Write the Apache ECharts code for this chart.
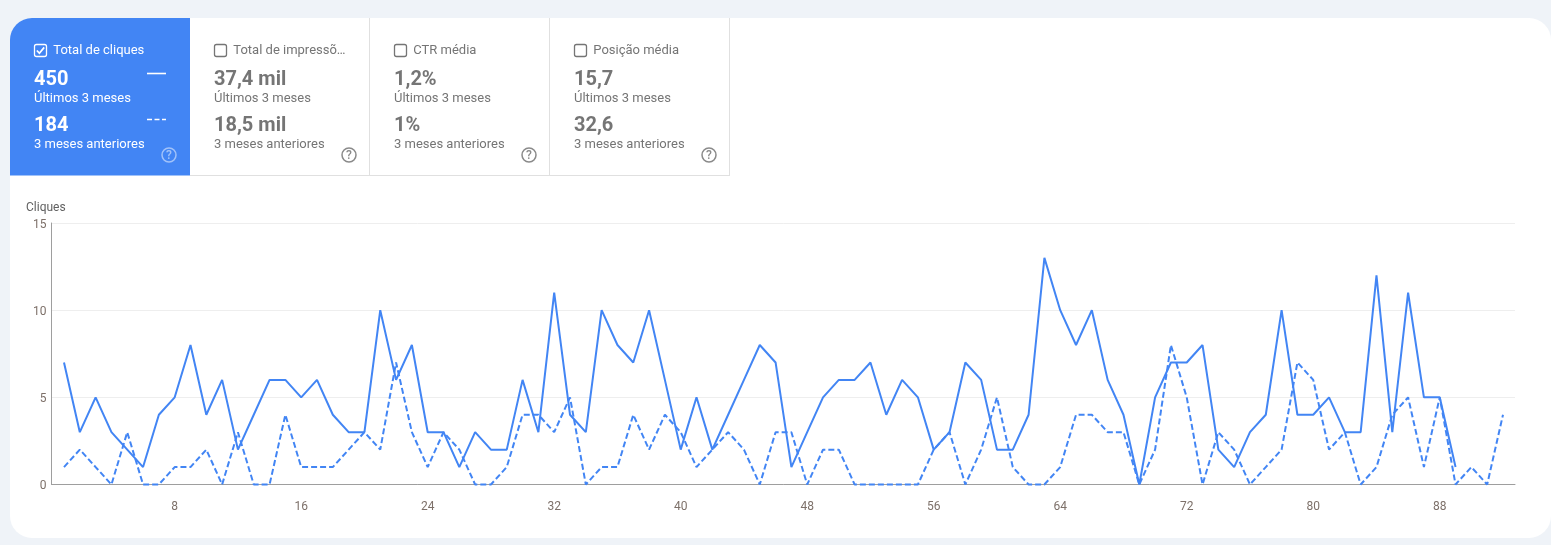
<!DOCTYPE html>
<html lang="pt">
<head>
<meta charset="utf-8">
<title>Cliques</title>
<script src="https://cdn.jsdelivr.net/npm/echarts@6/dist/echarts.min.js"></script>
<style>html,body{margin:0;padding:0;background:#eff3f8}#c{width:1551px;height:545px}</style>
</head>
<body>
<div id="c"></div>
<script>
const current = [7,3,5,3,2,1,4,5,8,4,6,2,4,6,6,5,6,4,3,3,10,6,8,3,3,1,3,2,2,6,3,11,4,3,10,8,7,10,6,2,5,2,4,6,8,7,1,3,5,6,6,7,4,6,5,2,3,7,6,2,2,4,13,10,8,10,6,4,0,5,7,7,8,2,1,3,4,10,4,4,5,3,3,12,3,11,5,5,1];
const previous = [1,2,1,0,3,0,0,1,1,2,0,3,0,0,4,1,1,1,2,3,2,7,3,1,3,2,0,0,1,4,4,3,5,0,1,1,4,2,4,3,1,2,3,2,0,3,3,0,2,2,0,0,0,0,0,2,3,0,2,5,1,0,0,1,4,4,3,3,0,2,8,5,0,3,2,0,1,2,7,6,2,3,0,1,4,5,1,5,0,1,0,4];
const xTickLabels = [8,16,24,32,40,48,56,64,72,80,88];
const yTickLabels = [0,5,10,15];
const metricTitles = ['Total de cliques','Total de impressõ…','CTR média','Posição média'];
const currentTotals = ['450','37,4 mil','1,2%','15,7'];
const previousTotals = ['184','18,5 mil','1%','32,6'];
const currentLabel = 'Últimos 3 meses';
const previousLabel = '3 meses anteriores';
const axisTitle = 'Cliques';

const BLUE = '#4285f4', GREY = '#757575', FONT = 'Roboto, sans-serif';
const toPair = (arr) => arr.map((v, i) => [i + 1, v]);

function txt(x, y, text, fill, size, weight) {
  return {type:'text', x, y, silent:true, z:5,
    style:{text, fill, font:(weight||400)+' '+size+'px '+FONT, textAlign:'left', textVerticalAlign:'middle'}};
}
const g = [];
// page surface
g.push({type:'rect', shape:{x:10,y:18,width:1541,height:520,r:22}, style:{fill:'#fff'}, z:0, silent:true});
// selected card
g.push({type:'rect', shape:{x:10,y:18,width:180,height:157.5,r:[22,0,0,0]}, style:{fill:BLUE}, z:1, silent:true});
// card borders
const BORDER = {stroke:'#e0e0e0', lineWidth:1};
[369.5,549.5,729.5].forEach(x => g.push({type:'line', shape:{x1:x,y1:18,x2:x,y2:175.5}, style:BORDER, z:1, silent:true}));
g.push({type:'line', shape:{x1:190,y1:175.5,x2:730,y2:175.5}, style:BORDER, z:1, silent:true});

metricTitles.forEach((title, i) => {
  const x = 34 + 180*i, on = i === 0;
  const main = on ? '#fff' : GREY;
  const hlp = on ? 'rgba(255,255,255,0.5)' : '#8a8a8a';
  g.push({type:'rect', shape:{x:x+0.5,y:44.5,width:12,height:12,r:2}, style:{fill:'none',stroke:on?'#fff':GREY,lineWidth:1.3}, z:4, silent:true});
  if (on) g.push({type:'polyline', shape:{points:[[x+2.8,50.5],[x+5.4,53.2],[x+10.2,47.4]]}, style:{fill:'none',stroke:'#fff',lineWidth:1.7}, z:4, silent:true});
  g.push(txt(x+19.3, 50.5, title, main, 13, 400));
  g.push(txt(x, 79.5, currentTotals[i], main, 20, 700));
  g.push(txt(x, 98.5, currentLabel, main, 13, 400));
  g.push(txt(x, 125.5, previousTotals[i], main, 20, 700));
  g.push(txt(x, 144.5, previousLabel, main, 13, 400));
  g.push({type:'circle', shape:{cx:x+135,cy:155,r:7}, style:{fill:'none',stroke:hlp,lineWidth:1.5}, z:4, silent:true});
  g.push({type:'text', x:x+135, y:156, silent:true, z:5, style:{text:'?',fill:hlp,font:'500 12px '+FONT,textAlign:'center',textVerticalAlign:'middle'}});
});
// legend samples on the selected card
g.push({type:'line', shape:{x1:147,y1:73.5,x2:166,y2:73.5}, style:{stroke:'#fff',lineWidth:1.6}, z:4, silent:true});
g.push({type:'line', shape:{x1:147,y1:119.5,x2:166,y2:119.5}, style:{stroke:'#fff',lineWidth:1.6,lineDash:[5,2.5]}, z:4, silent:true});
g.push(txt(26, 207.5, axisTitle, '#616161', 12, 400));

const chart = echarts.init(document.getElementById('c'), null, {renderer:'canvas'});
chart.setOption({
  animation:false,
  backgroundColor:'#eff3f8',
  graphic:{elements:g},
  grid:{left:51.5, right:36, top:223, bottom:60.5, containLabel:false, z:3},
  xAxis:{
    type:'value', min:0.21, max:92.76, splitLine:{show:false}, minorTick:{show:false},
    axisLine:{show:true, onZero:false, lineStyle:{color:'#9e9e9e',width:1}},
    axisTick:{show:false},
    axisLabel:{customValues:xTickLabels, margin:16, color:'#7d7069', fontFamily:'Roboto', fontSize:12}
  },
  yAxis:{
    type:'value', min:0, max:15, interval:5,
    axisLine:{show:true, lineStyle:{color:'#9e9e9e',width:1}},
    axisTick:{show:false},
    splitLine:{lineStyle:{color:'#eeeeee',width:1}},
    axisLabel:{margin:5, color:'#7d7069', fontFamily:'Roboto', fontSize:12,
      formatter:(v)=> yTickLabels.includes(v) ? '{t|' + v + '}' : '',
      rich:{t:{color:'#7d7069', fontFamily:'Roboto', fontSize:12, padding:[3,0,0,0]}}}
  },
  series:[
    {type:'line', name:'Últimos 3 meses', data:toPair(current), showSymbol:false, symbol:'none', clip:false, z:3,
      lineStyle:{color:BLUE,width:2}},
    {type:'line', name:'3 meses anteriores', data:toPair(previous), showSymbol:false, symbol:'none', clip:false, z:4,
      lineStyle:{color:BLUE,width:2,type:[6,3]}}
  ]
});
</script>
</body>
</html>
